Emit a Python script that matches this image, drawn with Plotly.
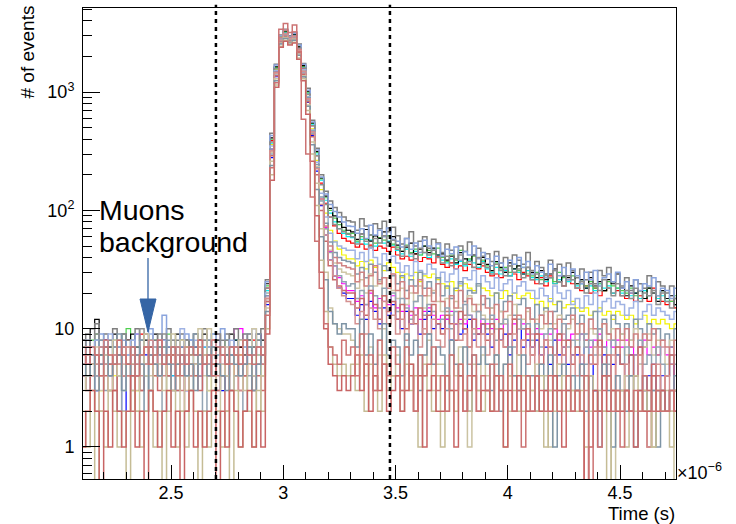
import numpy as np
import plotly.graph_objects as go

# ---------------- data (time in microseconds, counts per 0.02 us bin) ----------------
bin_start = 2.10
bin_width = 0.02
n_bins = 133

cut_times = [2.70, 3.475]
annot_lines = ["Muons", "background"]

x_tick_vals = [2.5, 3.0, 3.5, 4.0, 4.5]
x_tick_text = ["2.5", "3", "3.5", "4", "4.5"]
y_tick_vals = [1, 10, 100, 1000]
y_tick_text = ["1", "10", "10<sup>2</sup>", "10<sup>3</sup>"]

# each list: 41 bins before the peak (2.10-2.90), 19 peak bins (2.92-3.28), 73 tail bins (3.30-4.74)
counts_blue = [
    4,6,5,3,7,5,4,6,5,2,5,7,4,5,6,3,5,4,6,5,4,7,5,3,6,5,4,5,6,4,5,3,6,5,7,4,5,6,4,5,6,
    16,280,1350,2600,2950,2700,2850,2150,1400,820,430,215,110,62,38,28,22,20,18,
    18,13,16,12,17,14,11,15,13,16, 12,10,14,11,13,9,12,14,10,11, 10,12,8,11,9,10,12,8,9,11,
    9,7,10,8,9,6,8,10,7,8, 7,8,6,7,5,8,6,7,5,6, 6,5,7,5,3,1,6,4,5,6, 5,4,6,4,5,3,4,5,3,4, 4,5,3]
counts_magenta = [
    6,5,7,4,6,8,5,6,7,5,4,6,9,6,5,7,6,4,8,6,5,7,6,5,8,6,4,7,5,6,9,5,6,7,10,10,8,6,6,9,5,
    19,330,1500,2750,3100,2800,2950,2250,1480,870,460,235,125,72,45,34,27,24,21,
    21,17,19,16,20,15,18,17,16,19, 15,14,16,13,15,12,14,15,13,12, 13,12,14,11,12,11,13,12,10,12,
    11,10,12,10,11,9,11,10,11,9, 9,10,9,8,9,10,8,9,8,9, 8,9,8,7,8,9,7,8,7,8, 7,8,7,6,7,8,6,7,6,7, 6,7,6]
counts_yellow = [
    5,4,6,5,3,6,7,4,5,6,4,5,3,6,5,7,4,5,6,3,5,4,6,7,5,4,5,6,3,5,7,4,6,5,4,6,5,3,6,5,4,
    20,360,1550,2800,3050,2850,2900,2300,1550,920,490,265,150,95,68,55,47,42,39,
    39,34,37,32,38,33,35,31,36,33, 30,27,29,26,30,25,28,27,29,26, 24,22,25,21,23,24,22,21,23,22,
    21,19,20,18,21,19,20,18,19,20, 18,16,17,15,18,16,17,15,16,17, 15,14,15,13,14,15,13,14,12,14, 13,12,13,11,12,13,11,12,11,12, 11,10,11]
counts_red = [
    7,5,6,8,4,6,7,5,6,4,8,6,5,9,9,6,5,7,6,4,7,6,8,5,6,7,4,6,5,8,6,7,5,6,4,7,6,5,8,6,7,
    22,390,1600,2900,3150,2750,3000,2400,1600,960,520,290,170,115,88,74,64,58,55,
    53,49,52,47,51,46,50,48,45,49, 42,39,41,38,43,37,40,39,36,41, 35,33,36,32,34,31,35,33,32,34,
    30,28,29,27,31,28,29,26,30,28, 26,24,27,23,28,24,25,23,26,24, 22,21,23,20,22,19,21,22,20,21, 19,18,20,17,19,18,17,22,18,17, 16,17,15]
counts_cyan = [
    6,7,5,8,6,5,7,6,4,9,6,5,7,6,5,8,6,7,5,6,4,7,6,5,8,6,5,7,6,4,6,7,5,6,8,5,7,6,5,6,7,
    21,370,1580,2850,3200,2900,3050,2350,1620,980,530,300,180,122,95,80,70,64,60,
    59,54,57,52,56,50,58,53,55,51, 46,43,47,41,45,42,44,40,46,42, 38,36,39,35,37,34,38,36,33,37,
    32,30,33,29,31,28,32,30,29,31, 27,26,28,25,27,24,26,28,25,26, 23,24,22,23,21,24,22,23,20,22, 20,21,19,20,18,21,19,20,18,19, 17,18,16]
counts_green = [
    7,6,8,9,6,7,5,8,7,9,10,7,6,8,7,5,8,6,7,9,7,6,8,7,5,7,8,6,7,9,6,7,8,6,7,5,8,7,6,8,7,
    23,400,1620,2950,3250,2950,3000,2450,1650,1000,545,310,185,128,100,86,76,68,64,
    64,55,60,57,62,53,59,56,61,52, 49,45,51,44,47,42,50,46,43,48, 40,37,42,38,46,36,39,41,35,38,
    34,31,36,32,33,30,35,31,33,29, 28,30,26,29,27,25,30,27,26,28, 24,26,23,25,22,24,21,25,23,22, 21,20,22,19,21,18,22,20,19,21, 18,17,19]
counts_black = [
    8,7,10,12,6,8,7,9,6,7,8,9,7,6,8,7,9,6,8,7,6,9,7,8,6,7,8,9,7,6,8,7,6,9,8,7,6,8,7,9,8,
    24,410,1640,2900,3300,2850,3100,2420,1680,1020,550,315,188,132,104,90,80,72,68,
    66,57,63,69,55,61,58,66,54,60, 51,45,49,53,43,47,50,44,48,42, 43,38,41,36,44,39,37,42,35,40,
    35,31,37,33,30,36,32,34,29,33, 30,27,31,26,29,32,25,28,27,30, 24,26,22,27,23,25,21,26,24,29, 22,19,23,20,21,18,22,20,17,21, 18,19,16]
counts_gray = [
    8,9,7,11,8,9,7,10,8,9,7,8,10,8,9,7,8,9,8,10,7,8,9,8,7,9,8,10,8,7,9,8,9,7,10,8,9,8,7,9,10,
    26,450,1720,3050,3400,3000,3200,2550,1750,1080,580,335,200,145,120,106,96,88,82,
    80,68,85,74,62,77,70,81,66,72, 61,52,58,66,50,55,60,48,57,53, 44,52,46,39,50,45,54,42,48,41,
    43,37,45,36,40,34,42,38,35,44, 31,37,33,29,38,32,35,28,36,31, 27,32,26,30,24,31,28,33,25,29, 23,27,21,26,24,22,28,20,25,23, 20,23,18]
counts_lightblue = [
    6,8,7,5,9,7,8,6,7,8,6,7,9,8,7,10,6,8,13,7,8,6,7,9,8,7,6,8,7,9,7,10,8,6,7,8,7,9,6,8,7,
    25,430,1700,3000,3350,2950,3150,2500,1720,1040,560,325,192,138,112,98,88,80,74,
    73,64,70,58,75,62,68,60,71,57, 55,49,58,47,53,44,56,50,46,52, 41,47,43,49,38,45,42,50,39,44,
    39,34,41,36,32,38,35,40,33,37, 29,34,30,27,35,31,28,33,26,32, 28,24,30,26,31,23,27,29,25,30, 22,25,20,26,21,24,23,27,19,22, 21,18,22]
counts_gray2 = [
    7,8,6,9,7,5,8,7,6,9,8,6,7,10,7,8,6,7,9,6,8,7,5,8,7,9,6,8,7,6,9,7,8,5,7,8,6,9,7,8,6,
    22,380,1580,2850,3150,2800,3000,2350,1600,960,520,290,165,112,88,76,70,66,63,
    60,52,63,55,49,58,53,61,50,56, 47,41,50,43,39,48,44,42,46,40, 36,41,34,39,42,35,37,33,40,36,
    33,29,35,31,28,34,30,32,27,33, 26,29,24,28,27,31,25,23,28,26, 22,25,20,24,23,21,26,22,19,24, 19,21,18,22,17,20,19,21,16,20, 17,15,18]
counts_lightblue2 = [
    6,5,7,8,5,6,9,6,4,7,6,8,5,6,7,9,5,6,8,6,7,5,10,6,7,8,5,6,7,9,6,5,7,8,6,5,7,6,10,7,6,
    20,350,1520,2800,3100,2850,2950,2300,1550,920,480,255,140,88,64,54,50,48,46,
    46,39,44,37,48,40,35,43,38,41, 36,30,34,28,37,31,29,35,32,27, 30,25,29,32,24,27,26,31,23,28,
    25,22,27,21,24,26,20,23,25,21, 21,18,22,19,17,23,20,18,21,16, 18,15,19,16,20,14,17,18,15,17, 16,13,15,17,12,14,16,13,15,14, 13,12,14]
counts_slate3 = [
    5,7,6,4,8,6,5,7,9,6,5,7,6,8,4,6,7,5,6,8,7,5,6,4,7,9,5,6,8,5,7,6,4,7,6,8,5,7,6,9,5,
    19,330,1480,2750,3050,2750,2900,2250,1500,900,470,245,130,78,54,44,40,38,37,
    36,29,33,27,35,30,26,34,31,28, 24,28,21,26,23,30,22,25,20,27, 19,23,18,22,25,17,21,20,24,16,
    18,15,20,14,17,19,13,16,18,15, 12,16,13,15,11,14,17,12,13,15, 11,13,9,12,14,10,12,9,13,11, 9,11,8,12,10,7,11,9,10,8, 9,7,10]
counts_khaki3 = [
    4,6,5,7,3,5,6,8,4,5,7,6,3,5,9,4,6,5,7,4,6,5,8,3,6,5,7,4,10,6,5,4,7,5,6,8,4,5,10,6,5,
    18,310,1450,2700,3000,2700,2850,2200,1480,880,455,235,122,70,46,36,32,30,29,
    28,22,26,20,29,23,25,19,27,21, 18,22,16,20,17,23,15,19,21,17, 14,18,13,17,15,12,19,14,16,13,
    12,15,10,14,11,13,16,10,12,14, 9,12,10,14,8,11,13,9,10,12, 8,11,7,10,9,6,11,8,10,7, 9,6,8,10,5,7,9,6,8,7, 5,8,6]
counts_rose4 = [
    5,7,4,6,5,8,3,6,5,7,4,6,5,3,7,6,5,8,4,6,5,7,3,6,4,5,7,6,5,8,4,6,5,3,7,6,4,5,6,7,5,
    18,320,1470,2900,3350,2900,3250,2300,1350,850,440,230,125,74,50,40,36,34,33,
    32,25,30,23,28,34,24,27,22,29, 21,25,18,23,20,26,19,22,17,24, 17,14,19,15,21,13,18,16,14,19,
    15,12,16,11,14,17,12,13,10,15, 12,9,13,11,14,10,12,8,11,13, 9,11,8,12,10,7,11,9,8,10, 8,10,7,9,6,9,8,10,6,8, 7,5,8]
counts_slate2 = [
    4,3,5,4,6,3,4,5,2,4,5,3,4,6,4,3,5,4,2,4,5,3,6,4,3,5,4,2,5,4,3,4,6,3,4,5,2,4,3,5,4,
    17,300,1400,2700,3000,2750,2900,2200,1450,850,450,230,120,70,44,34,28,25,23,
    24,18,21,16,23,19,15,22,17,20, 14,18,15,12,17,19,13,16,14,11, 12,15,10,14,11,16,13,9,14,12,
    10,13,8,11,12,9,7,12,10,11, 8,11,7,9,10,6,9,11,7,8, 7,9,5,8,6,10,7,5,8,6, 5,7,4,6,8,5,6,3,7,5, 4,6,5]
counts_rose5 = [
    4,3,5,6,2,4,5,3,6,4,5,2,4,3,5,7,4,3,5,4,6,3,4,2,5,4,3,6,4,5,3,4,2,5,6,3,4,5,3,4,3,
    17,290,1380,2650,2950,2700,2800,2150,1420,830,420,200,100,55,34,26,23,21,20,
    20,15,18,13,21,16,12,19,14,17, 12,16,10,14,11,15,9,13,16,11, 9,13,11,8,14,10,7,12,9,11,
    8,11,6,10,7,9,12,6,8,10, 6,9,5,8,7,4,9,6,8,5, 7,4,0,6,5,8,4,6,3,7, 5,3,6,4,7,2,1,5,4,3, 4,6,3]
counts_rose2 = [
    5,6,4,5,7,5,3,6,5,4,7,5,6,4,5,8,5,4,6,5,3,6,5,7,4,5,6,5,4,6,5,7,4,5,6,3,5,6,4,5,7,
    18,320,1450,2750,3100,2800,2950,2250,1500,880,460,225,112,62,38,28,22,19,17,
    16,11,14,9,15,12,10,17,11,13, 9,12,8,11,13,7,10,9,12,8, 7,10,6,11,8,9,5,10,7,9,
    6,9,5,8,7,4,9,6,8,5, 7,4,6,8,3,6,5,7,4,6, 4,6,3,5,7,2,5,4,6,3, 3,5,2,4,6,3,1,4,5,3, 4,2,3]
counts_khaki = [
    3,4,5,2,4,6,3,5,4,3,5,4,2,6,4,3,5,4,3,6,9,5,2,4,3,5,10,6,3,4,2,5,4,3,6,4,3,5,4,2,4,
    15,260,1300,2600,2900,2650,2800,2100,1380,780,380,170,70,30,15,11,10,9,9,
    8,5,9,4,7,3,6,10,5,4, 6,3,7,5,2,6,4,8,3,5, 5,2,6,4,7,3,1,5,3,6,
    4,2,6,3,5,2,4,6,2,4, 3,5,2,4,1,3,5,2,4,3, 3,2,4,2,3,1,2,4,0,3, 2,4,2,2,3,2,3,1,3,2, 3,2,0]
counts_slate = [
    5,4,6,3,5,7,4,5,6,3,5,4,6,5,2,6,5,4,7,5,3,5,6,4,5,3,6,5,4,7,5,4,3,6,5,4,5,7,3,5,6,
    14,240,1250,2550,2850,2600,2750,2050,1350,760,360,150,60,26,14,11,9,11,10,
    10,7,12,6,9,5,8,11,6,8, 7,4,9,6,8,3,6,9,5,7, 6,3,8,5,4,7,2,6,5,7,
    5,3,6,2,5,7,4,3,6,4, 4,2,5,3,6,1,4,5,3,4, 3,5,2,4,3,2,5,3,1,4, 3,2,4,1,3,4,2,3,1,3, 2,3,4]
counts_khaki2 = [
    2,1,3,0,2,1,3,2,1,2,0,3,2,1,2,3,1,2,0,2,3,1,2,1,3,2,0,2,1,3,2,1,2,0,3,1,2,2,1,3,2,
    10,200,1150,2450,2750,2550,2650,1950,1300,700,300,110,38,14,7,5,4,5,4,
    5,3,6,2,5,4,2,6,3,4, 4,2,5,3,4,1,5,3,2,4, 1,4,3,2,5,3,2,4,3,2,
    3,2,4,3,1,4,3,2,4,2, 3,2,4,1,3,2,3,4,2,3, 2,3,1,4,2,3,2,0,3,2, 3,1,2,4,2,3,2,1,3,2, 2,1,3]
counts_rose3 = [
    1,2,3,2,0,2,1,3,2,1,2,4,1,2,0,3,2,1,2,3,1,2,0,2,3,1,2,1,2,3,0,2,1,3,2,1,2,3,1,2,1,
    9,180,1100,2400,2700,2500,2600,1900,1250,650,260,90,30,10,5,4,3,4,3,
    4,6,3,5,2,4,3,5,2,3, 4,2,3,5,2,4,1,3,4,2, 2,4,3,1,4,2,3,4,2,3,
    3,2,4,3,1,3,2,4,3,2, 2,4,2,3,2,4,3,1,3,2, 3,2,0,1,3,2,4,2,3,2, 2,3,2,1,3,2,2,4,2,3, 2,3,2]
counts_rose = [
    6,5,7,6,4,7,6,5,8,6,5,7,4,6,7,5,6,8,5,6,7,4,6,5,7,6,8,5,6,4,7,6,5,7,6,5,8,6,5,7,6,
    13,230,1200,3400,3800,3200,3700,2200,590,300,130,55,22,11,7,6,5,8,6,
    7,4,9,5,6,3,8,5,4,7, 5,3,7,4,2,6,4,5,7,3, 4,2,6,3,5,2,4,6,2,4,
    3,5,2,4,3,5,2,3,1,4, 2,4,3,2,4,3,2,3,4,2, 3,2,4,0,2,1,3,4,2,3, 1,3,2,3,2,4,3,2,3,2, 2,3,2]

# drawing order: saturated colours first, pastel ones on top
series = [
    ("blue", counts_blue, "#0000ff", 1.2),
    ("magenta", counts_magenta, "#ff00ff", 1.2),
    ("yellow", counts_yellow, "#f2f200", 1.2),
    ("red", counts_red, "#ff0000", 1.2),
    ("cyan", counts_cyan, "#00f0f0", 1.2),
    ("green", counts_green, "#4fcf4f", 1.2),
    ("black", counts_black, "#000000", 1.2),
    ("gray", counts_gray, "#7f7f7f", 1.5),
    ("lightblue", counts_lightblue, "#8aa4dd", 1.5),
    ("gray2", counts_gray2, "#8e8e8e", 1.5),
    ("lightblue2", counts_lightblue2, "#9fb2e3", 1.5),
    ("slate3", counts_slate3, "#8499ab", 1.5),
    ("khaki3", counts_khaki3, "#cfc6a6", 1.5),
    ("rose4", counts_rose4, "#d08282", 1.5),
    ("slate2", counts_slate2, "#93a4b4", 1.5),
    ("rose5", counts_rose5, "#c96a6a", 1.5),
    ("rose2", counts_rose2, "#d49090", 1.5),
    ("khaki", counts_khaki, "#cbc3a2", 1.5),
    ("slate", counts_slate, "#7e94a5", 1.5),
    ("khaki2", counts_khaki2, "#c5bc95", 1.5),
    ("rose3", counts_rose3, "#c86464", 1.5),
    ("rose", counts_rose, "#cc7373", 1.5),
]

# ---------------- figure ----------------
W, H = 736, 524
ML, MR, MT, MB = 83, 60, 8, 45
FONT = "Liberation Sans, Arial, Helvetica, sans-serif"


def px(x):
    return (x - ML) / (W - ML - MR)


def py(y):
    return (H - MB - y) / (H - MT - MB)


edges = bin_start + bin_width * np.arange(n_bins + 1)

fig = go.Figure()
for name, counts, color, lw in series:
    c = np.asarray(counts, dtype=float)
    assert len(c) == n_bins, (name, len(c))
    y = np.where(c > 0, c, 1e-3)  # empty bins fall to the floor of the log axis
    y = np.append(y, y[-1])
    fig.add_trace(go.Scatter(
        x=edges, y=y, mode="lines", name=name,
        line=dict(color=color, width=lw, shape="hv"),
        showlegend=False, hoverinfo="skip"))

shapes = []
for t in cut_times:
    shapes.append(dict(type="line", xref="x", yref="paper", x0=t, x1=t, y0=0, y1=1.007,
                       line=dict(color="black", width=2.5, dash="4px,4px"), layer="above"))
arrow_col = "#3565a5"
shapes.append(dict(type="line", xref="paper", yref="paper",
                   x0=px(148), x1=px(148), y0=py(258), y1=py(300),
                   line=dict(color=arrow_col, width=1.3), layer="above"))
shapes.append(dict(type="path", xref="paper", yref="paper",
                   path=f"M {px(140)},{py(299)} L {px(156)},{py(299)} L {px(148)},{py(332)} Z",
                   fillcolor=arrow_col, line=dict(color=arrow_col, width=1), layer="above"))

annotations = [
    dict(text=annot_lines[0], xref="paper", yref="paper", x=px(98), y=py(210),
         xanchor="left", yanchor="middle", showarrow=False, borderpad=0,
         font=dict(family=FONT, size=28.5, color="black")),
    dict(text=annot_lines[1], xref="paper", yref="paper", x=px(98), y=py(242),
         xanchor="left", yanchor="middle", showarrow=False, borderpad=0,
         font=dict(family=FONT, size=28.5, color="black")),
    dict(text="# of events", xref="paper", yref="paper", x=px(27), y=py(5),
         xanchor="center", yanchor="top", textangle=-90, showarrow=False, borderpad=0,
         font=dict(family=FONT, size=19, color="black")),
    dict(text="Time (s)", xref="paper", yref="paper", x=px(676), y=py(513),
         xanchor="right", yanchor="middle", showarrow=False, borderpad=0,
         font=dict(family=FONT, size=18.5, color="black")),
    dict(text="×10<sup>−6</sup>", xref="paper", yref="paper", x=px(676), y=py(471),
         xanchor="left", yanchor="middle", showarrow=False, borderpad=0,
         font=dict(family=FONT, size=18, color="black")),
]

y_minor = [v * d for d in (0.1, 1, 10, 100, 1000) for v in range(2, 10)]
y_minor = [v for v in y_minor if 0.55 < v < 5100 and v not in y_tick_vals]

fig.update_layout(
    width=W, height=H,
    margin=dict(l=ML, r=MR, t=MT, b=MB),
    paper_bgcolor="white", plot_bgcolor="white",
    font=dict(family=FONT, size=18, color="black"),
    shapes=shapes, annotations=annotations,
    xaxis=dict(range=[2.108, 4.749], showgrid=False, zeroline=False,
               showline=True, linecolor="black", linewidth=1, mirror=True,
               ticks="inside", ticklen=14, tickwidth=1, tickcolor="black",
               tickmode="array", tickvals=x_tick_vals, ticktext=x_tick_text,
               ticklabelstandoff=-3,
               minor=dict(ticks="inside", ticklen=7, tickwidth=1, tickcolor="black",
                          dtick=0.1, tick0=2.0, showgrid=False),
               tickfont=dict(family=FONT, size=18, color="black")),
    yaxis=dict(type="log", range=[np.log10(0.536), np.log10(5150)],
               showgrid=False, zeroline=False,
               showline=True, linecolor="black", linewidth=1, mirror=True,
               ticks="inside", ticklen=17, tickwidth=1, tickcolor="black",
               tickmode="array", tickvals=y_tick_vals, ticktext=y_tick_text,
               ticklabelstandoff=4,
               minor=dict(ticks="inside", ticklen=9, tickwidth=1, tickcolor="black",
                          tickmode="array", tickvals=y_minor, showgrid=False),
               tickfont=dict(family=FONT, size=18, color="black")),
)

fig.write_html("out.html")
